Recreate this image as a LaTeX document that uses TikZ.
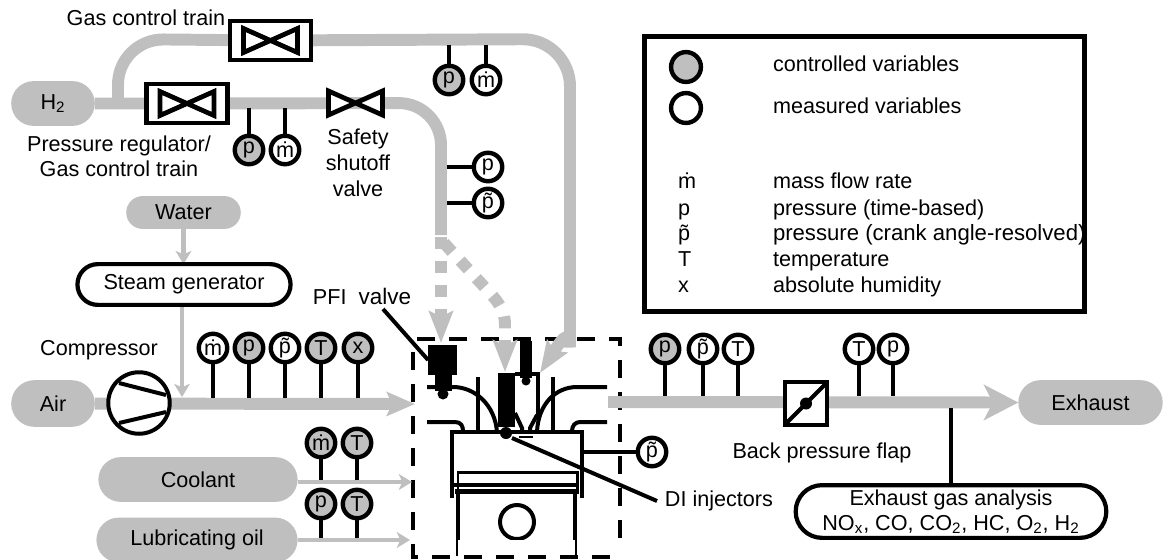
\documentclass[tikz,border=0pt]{standalone}
\usepackage{fontspec}
\setmainfont{Liberation Sans}
\usetikzlibrary{arrows.meta}
\usetikzlibrary{backgrounds}
\usetikzlibrary{shapes.misc}
\definecolor{PipeGrey}{HTML}{BFBFBF}
\newcommand{\mdot}{\.m}
\newcommand{\ptil}{\~p}
\tikzset{
  every node/.style={font=\fontsize{12.3}{14.3}\selectfont,inner sep=0pt,outer sep=0pt},
  pill/.style={rounded rectangle,fill=PipeGrey},
  whitepill/.style={rounded rectangle,draw,fill=white,line width=2.4pt},
  ctrl/.style={circle,draw,line width=2.5pt,fill=PipeGrey,minimum size=16.2pt},
  meas/.style={circle,draw,line width=2.5pt,fill=white,minimum size=16.2pt},
  stem/.style={line width=2.27pt},
  pipe/.style={PipeGrey,line width=6.8pt},
  thinpipe/.style={PipeGrey,line width=2.8pt,-{Stealth[length=7.5pt,width=9pt,inset=2pt]}},
  bighead/.style={-{Stealth[length=18pt,width=13.5pt,inset=3pt]}},
  valvebox/.style={rectangle,draw,fill=white,line width=2.5pt,minimum width=45.9pt,minimum height=22.1pt},
  bowtie/.style={draw=black,fill=white,line width=2.7pt,line join=miter},
  eng/.style={line width=2.27pt},
  injector/.style={rectangle,fill=black},
  dashpipe/.style={pipe,dash pattern=on 6.8pt off 6.8pt},
  boxdash/.style={line width=2.4pt,dash pattern=on 10.2pt off 8pt}
}
\begin{document}
\begin{tikzpicture}[x=0.02cm,y=-0.02cm]
  \useasboundingbox (0,0) rectangle (1163,559);

  \node[pill,minimum width=47.6pt,minimum height=25.5pt] (hyd) at (53,103.5) {H\textsubscript{2}};
  \node[pill,minimum width=47.6pt,minimum height=26.6pt] (air) at (53,403.5) {Air};
  \node[pill,minimum width=65.2pt,minimum height=18.7pt] (water) at (183.5,212.5) {Water};
  \node[pill,minimum width=113.4pt,minimum height=25.5pt] (coolant) at (198,479.5) {Coolant};
  \node[pill,minimum width=114.5pt,minimum height=25.5pt] (luboil) at (197,540) {Lubricating oil};
  \node[pill,minimum width=82.2pt,minimum height=25.5pt] (exhaust) at (1090.5,402.5) {Exhaust};
  \node[whitepill,minimum width=121.3pt,minimum height=23.2pt] (steam) at (184,284.5) {Steam generator};
  \node[whitepill,minimum width=176.8pt,minimum height=30pt,align=center] (gasan) at (951,511.5)
    {Exhaust gas analysis\\NO\textsubscript{x}, CO, CO\textsubscript{2}, HC, O\textsubscript{2}, H\textsubscript{2}};

  \node[valvebox] (gastrain) at (270.5,40.5) {};
  \node[valvebox] (pressreg) at (187,103.5) {};
  \node[circle,draw,fill=white,line width=2.27pt,minimum size=35pt] (comp) at (139,403) {};
  \node[rectangle,draw,fill=white,line width=2.5pt,minimum size=24.2pt] (flap) at (806,403.5) {};
  \coordinate (sso) at (355.5,103);

  \foreach \v in {gastrain,pressreg,sso}{%
    \draw[bowtie] (\v) ++(-27,-12) -- ++(54,24) -- ++(0,-24) -- ++(-54,24) -- cycle;
  }
  \draw[eng] (119,383) -- (166,395);
  \draw[eng] (119,423) -- (166,412);
  \draw[eng] (flap.south west) -- (flap.north east);
  \fill (flap.center) circle (6);

  \foreach \id/\x/\y/\ex/\ey/\lab/\kind in {%
    a/249/150/249/108/p/ctrl, b/285/150/285/108/\mdot/meas,
    c/449/80/449/45/p/ctrl, d/486/80/486/45/\mdot/meas,
    e/488/167/447/167/p/meas, f/488/203/447/203/\ptil/meas,
    g/213/348/213/398/\mdot/meas, h/249/348/249/398/p/ctrl,
    i/285/348/285/398/\ptil/meas, j/321/348/321/398/T/ctrl,
    k/358/348/358/398/x/ctrl,
    l/321/443/321/480/\mdot/ctrl, m/357/443/357/480/T/ctrl,
    n/321/504/321/538/p/ctrl, o/357/504/357/538/T/ctrl,
    q/665/349/665/396/p/ctrl, r/703/349/703/396/\ptil/meas,
    s/738/349/738/396/T/meas, t/859/349/859/396/T/meas,
    u/893/349/893/396/p/meas, v/652/452/582/452/\ptil/meas}{%
    \node[\kind] (s\id) at (\x,\y) {\lab};
    \coordinate (e\id) at (\ex,\ey);
    \draw[stem] (s\id) -- (e\id);
  }

  \node (lblgas) at (146,18) {Gas control train};
  \node[align=center] (lblreg) at (119,156.5) {Pressure regulator/\\Gas control train};
  \node[align=center,font=\fontsize{12.3}{14.8}\selectfont] (lblsso) at (358,163) {Safety\\shutoff\\valve};
  \node (lblcomp) at (99,350) {Compressor};
  \node (lblpfi) at (362,296) {PFI\ \ {\fontsize{12.8}{15}\selectfont valve}};
  \node[anchor=west,inner sep=4.5pt] (lbldi) at (657,501) {DI injectors};
  \node (lblflap) at (822,453) {Back pressure flap};

  \node[rectangle,draw,line width=2.6pt,minimum width=250.6pt,minimum height=156.4pt] (legend) at (864.5,174) {};
  \node[ctrl,minimum size=17pt] (legctrl) at (686,67) {};
  \node[meas,minimum size=17pt] (legmeas) at (686,108) {};
  \foreach \id/\y/\txt in {a/71/controlled variables, b/113/measured variables}{%
    \node[anchor=base west] (leg\id) at (773,\y) {\txt};
  }
  \foreach \id/\y/\sym/\txt in {%
    c/188/\mdot/mass flow rate, d/215/p/pressure (time-based),
    e/240/\ptil/{\fontsize{12.6}{15}\selectfont pressure (crank angle-resolved)}, f/266/T/temperature,
    g/292/x/absolute humidity}{%
    \node[anchor=base west] (sym\id) at (678,\y) {\sym};
    \node[anchor=base west] (leg\id) at (773,\y) {\txt};
  }

  \coordinate (hydjoin) at (118,103);
  \coordinate (gasin) at (540,373);
  \coordinate (airin) at (415,404);
  \coordinate (steamin) at (182,397);
  \coordinate (coolin) at (412,482);
  \coordinate (oilin) at (410,540);
  \coordinate (exhout) at (608,402);
  \coordinate (gasantap) at (951,408);
  \coordinate (pfistart) at (383,309);
  \coordinate (ditip) at (512,438);

  \begin{scope}[on background layer]
    \draw[boxdash] (413,352) -- (413,557) -- (620,557);
    \draw[boxdash] (620,538) -- (620,339) -- (413,339);
    \draw[pipe] (hyd) -- (pressreg);
    \draw[pipe,rounded corners=26pt] (hydjoin) -- (118,39) -- (gastrain);
    \draw[pipe,rounded corners=27pt,bighead] (gastrain) -- (570,39) -- (570,300) [sharp corners]
      .. controls (570,325) and (558,345) .. (gasin);
    \draw[pipe,rounded corners=24pt] (pressreg) -- (441,103) -- (441,235);
    \draw[dashpipe,bighead] (441,237) -- (441,343);
    \draw[dashpipe,bighead] (444,243) -- (490,293) .. controls (500,304) and (505,312) .. (505,325) -- (505,372);
    \draw[pipe,-{Stealth[length=16pt,width=13.5pt,inset=3pt]}] (air) -- (airin);
    \draw[thinpipe] (water.south) -- (water.south |- steam.north);
    \draw[thinpipe] (steamin |- steam.south) -- (steamin);
    \draw[thinpipe] (coolant.east |- coolin) -- (coolin);
    \draw[thinpipe] (luboil.east) -- (oilin);
    \draw[pipe,-{Stealth[length=19.5pt,width=20pt,inset=5pt]}] (exhout) -- (exhaust.west);
    \draw[stem] (gasan.north) -- (gasantap);
  \end{scope}

  \draw[eng] (427,422) -- (455,422) .. controls (461,422) and (463,426) .. (463,431);
  \draw[eng] (452,498) -- (452,432) -- (582,432) -- (582,498);
  \draw[eng] (427,387) -- (453,387) .. controls (475,387) and (495,405) .. (497,432);
  \draw[eng] (478,377) -- (478,432);
  \draw[eng] (553,377) -- (553,432);
  \draw[eng] (607,387) -- (577,387) .. controls (555,387) and (538,405) .. (537,432);
  \draw[eng] (607,422) -- (580,422) .. controls (575,422) and (572,426) .. (572,431);
  \draw[eng] (515,413) -- (522,428) -- (522,432);
  \draw[eng] (537,415) -- (530,428) -- (530,432);
  \draw[line width=2pt] (515,374) -- (538,374) -- (538,420);
  \draw[line width=0.8pt] (519,437) -- (533,437);

  \node[injector,minimum width=16.4pt,minimum height=17pt] (injpfi) at (442.5,360) {};
  \fill (435,375) rectangle (452,391);
  \fill (443,394) circle (5.5);
  \node[injector,minimum width=9.6pt,minimum height=30.6pt] (injdi) at (506.5,400) {};
  \fill (506,433) circle (6);
  \node[injector,minimum width=6.8pt,minimum height=21pt] (injside) at (526,359.5) {};
  \fill (520,337) rectangle (528,345);
  \fill (526,381) circle (4.5);

  \draw[stem] (pfistart) -- (injpfi.west);
  \draw[stem] (lbldi.west) -- (ditip);

  \draw[line width=1.7pt] (458,490) -- (458,472) -- (577,472) -- (577,490);
  \draw[eng] (452,485) -- (579,485);
  \draw[line width=2.8pt] (455,491.5) -- (579,491.5);
  \draw[eng] (458,491) -- (458,540);
  \draw[eng] (575,491) -- (575,540);
  \draw[line width=0.6pt] (457,540) -- (457,556);
  \draw[line width=1.2pt] (576,540) -- (576,556);
  \begin{scope}
    \clip (490,495) rectangle (545,539);
    \draw[eng] (517,522) circle (17);
  \end{scope}
\end{tikzpicture}
\end{document}
